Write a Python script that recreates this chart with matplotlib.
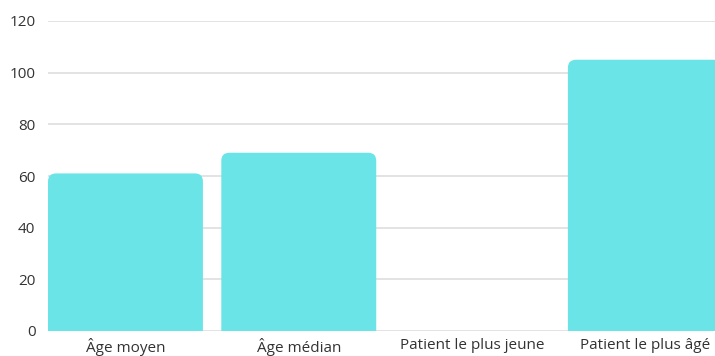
import matplotlib
matplotlib.use('Agg')
import matplotlib.pyplot as plt
from matplotlib.patches import FancyBboxPatch

# Data
categories = ['Âge moyen', 'Âge médian', 'Patient le plus jeune', 'Patient le plus âgé']
values = [61, 69, 0, 105]
y_ticks = [0, 20, 40, 60, 80, 100, 120]

bar_color = '#6be4e8'
grid_color = '#dedede'
text_color = '#333333'

plt.rcParams['font.family'] = ['Open Sans', 'DejaVu Sans']

fig = plt.figure(figsize=(7.15, 3.56), dpi=100)
ax = fig.add_axes([48/715, 25/356, 667/715, 310/356])

width = 0.894
x = list(range(len(categories)))
bars = ax.bar(x, values, width=width, color=bar_color, zorder=2)

ax.set_xlim(-width/2, -width/2 + 667/173.3)
ax.set_ylim(0, 120)

# rounded tops: swap each bar for a rounded box that dips below the axis
r_x = 8/173.3
r_y = 8/2.583
aspect = r_y / r_x
for b in bars:
    h = b.get_height()
    b.set_visible(False)
    if h <= 0:
        continue
    x0, w = b.get_x(), b.get_width()
    rb = FancyBboxPatch((x0, -2*r_y), w, h + 2*r_y,
                        boxstyle='round,pad=0,rounding_size=%f' % r_x,
                        mutation_aspect=aspect,
                        facecolor=bar_color, edgecolor='none', zorder=2)
    ax.add_patch(rb)

ax.set_yticks(y_ticks)
ax.set_xticks(x)
ax.set_xticklabels(categories)
ax.yaxis.grid(True, color=grid_color, linewidth=1.2, zorder=0)
ax.set_axisbelow(True)
for s in ax.spines.values():
    s.set_visible(False)
ax.tick_params(axis='both', length=0, labelsize=11, colors=text_color)
ax.tick_params(axis='y', pad=9)
ax.tick_params(axis='x', pad=5)

fig.savefig('out.png', dpi=100)
